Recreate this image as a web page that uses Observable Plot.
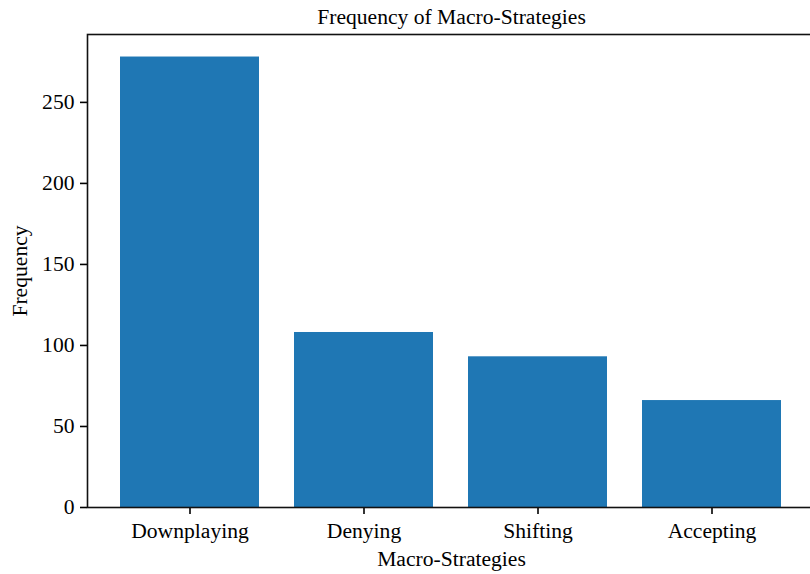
<!DOCTYPE html>
<html>
<head>
<meta charset="utf-8">
<script src="https://cdn.jsdelivr.net/npm/d3@7"></script>
<script src="https://cdn.jsdelivr.net/npm/@observablehq/plot@0.6"></script>
<style>
  html, body { margin: 0; padding: 0; background: white; overflow: hidden; }
  #chart { width: 810px; height: 574px; overflow: hidden; }
</style>
</head>
<body>
<div id="chart"></div>
<script>
// Counts of each macro-strategy
const categories = ["Downplaying", "Denying", "Shifting", "Accepting"];
const counts = [278, 108, 93, 66];
const yTicks = [0, 50, 100, 150, 200, 250];

const title = "Frequency of Macro-Strategies";
const xLabel = "Macro-Strategies";
const yLabel = "Frequency";

const data = categories.map((category, i) => ({category, count: counts[i]}));
const yMax = d3.max(counts) * 1.05;

const font = "'Liberation Serif', 'Times New Roman', Times, serif";
const fs = 21.6;

const chart = Plot.plot({
  width: 810,
  height: 574,
  marginTop: 34,
  marginBottom: 67,
  marginLeft: 87,
  marginRight: -5,
  style: {fontFamily: font, fontSize: `${fs}px`, color: "black", background: "white", overflow: "visible"},
  x: {domain: categories, type: "band", paddingInner: 0.2, paddingOuter: 0.19, label: null},
  y: {domain: [0, yMax], label: null},
  marks: [
    Plot.barY(data, {x: "category", y: "count", fill: "#1f77b4"}),
    Plot.axisX({tickSize: 7, tickPadding: 8, strokeWidth: 1.6, fontSize: fs, label: null}),
    Plot.axisY({ticks: yTicks, tickSize: 7, tickPadding: 6, strokeWidth: 1.6, fontSize: fs, label: null}),
    Plot.frame({stroke: "#111", strokeWidth: 1.6}),
    Plot.text([title], {frameAnchor: "top", lineAnchor: "bottom", dy: -11, fontSize: fs, fill: "black"}),
    Plot.text([xLabel], {frameAnchor: "bottom", lineAnchor: "bottom", dy: 58, fontSize: fs, fill: "black"}),
    Plot.text([yLabel], {frameAnchor: "left", textAnchor: "middle", lineAnchor: "middle", rotate: -90, dx: -67, fontSize: fs, fill: "black"})
  ]
});

document.getElementById("chart").appendChild(chart);
</script>
</body>
</html>
